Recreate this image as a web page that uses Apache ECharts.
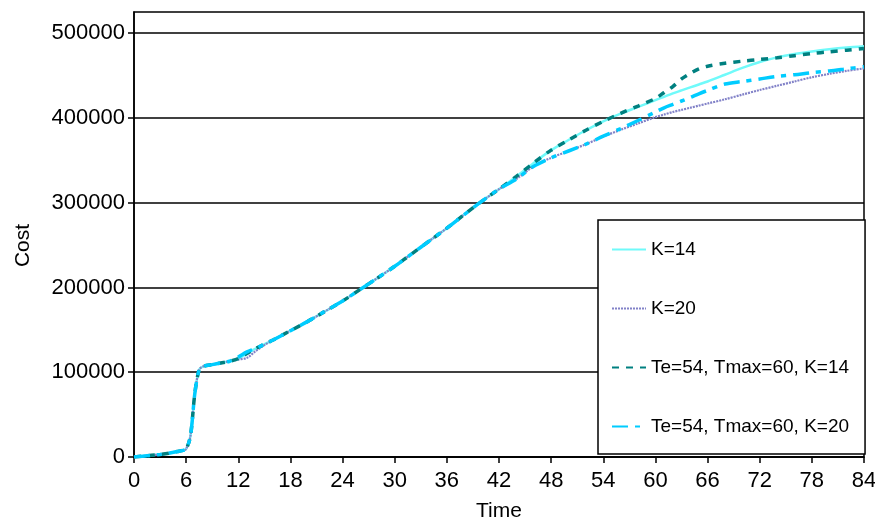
<!DOCTYPE html>
<html>
<head>
<meta charset="utf-8">
<script src="https://cdn.jsdelivr.net/npm/echarts@6/dist/echarts.min.js"></script>
<style>
  html, body { margin: 0; padding: 0; background: #fff; }
  #chart { width: 875px; height: 521px; }
</style>
</head>
<body>
<div id="chart"></div>
<script>
// Time axis samples (shared by all four series)
const times = [0, 1, 2, 3, 4, 5, 5.5, 6, 6.5, 7, 7.5, 8, 9, 10, 11, 12, 13, 14, 15, 16,
  18, 20, 22, 24, 26, 28, 30, 32, 34, 36, 38, 40, 42,
  44, 46, 48, 50, 52, 54, 56, 58, 60, 61, 62, 63, 64, 65, 66,
  68, 70, 72, 74, 76, 78, 80, 82, 84];

// Cost, K=14
const costK14 = [0, 1000, 2000, 3000, 4500, 6500, 7500, 9500, 25000, 75000, 103000, 107000, 109000, 111000, 113000, 116000, 122000, 128000, 133000, 138000,
  149000, 160000, 172000, 184000, 197500, 211000, 225000, 240000, 255000, 270000, 286000, 301500, 316000,
  331000, 347000, 362000, 374000, 385500, 396000, 405000, 413000, 421000, 425000, 429000, 432500, 436000, 439500, 443000,
  451000, 459000, 466000, 471500, 475500, 478500, 481000, 483000, 484500];

// Cost, K=20
const costK20 = [0, 1000, 2000, 3000, 4500, 6500, 7500, 9500, 25000, 75000, 103000, 107000, 109000, 111000, 113000, 115000, 117000, 125000, 132000, 138000,
  149000, 160000, 172000, 184000, 197500, 211000, 225000, 240000, 255000, 270000, 286000, 301500, 316000,
  328000, 343000, 353000, 361000, 369000, 378000, 386000, 393500, 401000, 404000, 407000, 409500, 412000, 414500, 417000,
  422000, 427500, 433000, 438000, 443000, 448000, 452000, 455500, 458500];

// Cost, Te=54, Tmax=60, K=14
const costTeK14 = [0, 1000, 2000, 3000, 4500, 6500, 7500, 9500, 25000, 75000, 103000, 107000, 109000, 111000, 113000, 116000, 122000, 128000, 133000, 138000,
  149000, 160000, 172000, 184000, 197500, 211000, 225000, 240000, 255000, 270000, 286000, 301500, 316000,
  331000, 347000, 362000, 374000, 385500, 396000, 405500, 414000, 423000, 430000, 437000, 446000, 452500, 458000, 461000,
  464500, 467000, 469000, 471000, 473500, 476000, 478000, 480000, 482000];

// Cost, Te=54, Tmax=60, K=20
const costTeK20 = [0, 1000, 2000, 3000, 4500, 6500, 7500, 9500, 25000, 75000, 103000, 107000, 109000, 111000, 113000, 118000, 124000, 128000, 133000, 138000,
  149000, 160000, 172000, 184000, 197500, 211000, 225000, 240000, 255000, 270000, 286000, 301500, 316000,
  328000, 343000, 353000, 361000, 369000, 378500, 387500, 397000, 407000, 412000, 416000, 420000, 424000, 428500, 432500,
  440000, 443000, 446000, 449000, 451000, 453500, 455500, 458000, 460500];

const seriesNames = ['K=14', 'K=20', 'Te=54, Tmax=60, K=14', 'Te=54, Tmax=60, K=20'];
const yTicks = [0, 100000, 200000, 300000, 400000, 500000];

const pairs = vals => times.map((t, i) => [t, vals[i]]);
const FONT = 'Liberation Sans, Arial, sans-serif';

const chart = echarts.init(document.getElementById('chart'), null, { renderer: 'canvas' });

chart.setOption({
  animation: false,
  backgroundColor: '#fff',
  textStyle: { fontFamily: FONT, color: '#000' },
  grid: {
    left: 134, right: 11, top: 12, bottom: 64,
    outerBoundsMode: 'none',
    containLabel: false,
    show: true, borderColor: '#000', borderWidth: 1.5
  },
  xAxis: {
    type: 'value',
    min: 0, max: 84, interval: 6,
    name: 'Time',
    nameLocation: 'middle',
    nameGap: 44,
    nameTextStyle: { fontSize: 21, color: '#000', fontFamily: FONT },
    axisLine: { lineStyle: { color: '#000', width: 1.5 } },
    axisTick: { show: true, inside: false, length: 6, lineStyle: { color: '#000', width: 1.5 } },
    axisLabel: { fontSize: 22, color: '#000', margin: 13, fontFamily: FONT },
    splitLine: { show: false }
  },
  yAxis: {
    type: 'value',
    min: 0, max: 525000, interval: 100000,
    name: 'Cost',
    nameLocation: 'middle',
    nameGap: 100,
    nameTextStyle: { fontSize: 21, color: '#000', fontFamily: FONT, padding: [0, 22, 0, 0] },
    axisLine: { show: true, lineStyle: { color: '#000', width: 1.5 } },
    axisTick: { show: true, length: 6, customValues: yTicks, lineStyle: { color: '#000', width: 1.5 } },
    axisLabel: {
      fontSize: 22, color: '#000', margin: 9, customValues: yTicks, fontFamily: FONT,
      formatter: v => String(v)
    },
    splitLine: { show: true, lineStyle: { color: '#000', width: 1.5 } }
  },
  legend: {
    data: seriesNames,
    orient: 'vertical',
    left: 598, top: 220,
    padding: [20, 16, 18, 13],
    itemWidth: 34, itemHeight: 14, itemGap: 40,
    backgroundColor: '#fff',
    borderColor: '#000', borderWidth: 1.5,
    itemStyle: { opacity: 0, borderWidth: 0 },
    textStyle: { fontSize: 19, color: '#000', fontFamily: FONT }
  },
  series: [
    {
      name: seriesNames[0], type: 'line', symbol: 'none', smooth: 0.3,
      data: pairs(costK14),
      lineStyle: { color: '#70FAFA', width: 2.5, type: 'solid' },
      itemStyle: { color: '#70FAFA' }
    },
    {
      name: seriesNames[1], type: 'line', symbol: 'none', smooth: 0.3,
      data: pairs(costK20),
      lineStyle: { color: '#8282C8', width: 2.2, type: [2, 1] },
      itemStyle: { color: '#8282C8' }
    },
    {
      name: seriesNames[2], type: 'line', symbol: 'none', smooth: 0.3,
      data: pairs(costTeK14),
      lineStyle: { color: '#008080', width: 3.5, type: [7, 7] },
      itemStyle: { color: '#008080' }
    },
    {
      name: seriesNames[3], type: 'line', symbol: 'none', smooth: 0.3,
      data: pairs(costTeK20),
      lineStyle: { color: '#00CCFF', width: 3.5, type: [16, 7, 5, 7] },
      itemStyle: { color: '#00CCFF' }
    }
  ]
});
</script>
</body>
</html>
